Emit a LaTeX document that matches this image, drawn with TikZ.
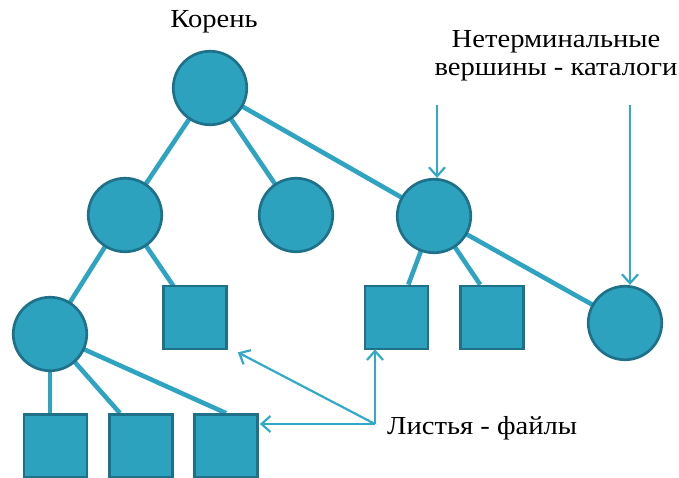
\documentclass[tikz,border=0pt]{standalone}
\usepackage{fontspec}
\setmainfont{Liberation Serif}[FakeStretch=1.1]
\usetikzlibrary{arrows.meta,backgrounds,calc}
\definecolor{nodefill}{HTML}{2CA2BF}
\definecolor{nodeedge}{HTML}{1F7189}
\definecolor{treeline}{HTML}{2EA4C2}
\definecolor{pointer}{HTML}{33A9C9}
\tikzset{
  vert/.style={circle, minimum size=73.5pt, inner sep=0pt, fill=nodefill, draw=nodeedge, line width=2.7pt},
  leaf/.style={rectangle, minimum size=63pt, inner sep=0pt, fill=nodefill, draw=nodeedge, line width=2.7pt},
  branch/.style={draw=treeline, line width=4.6pt},
  ptr/.style={draw=pointer, line width=2.2pt, -{Straight Barb[length=9pt,width=16pt,line width=2.2pt]}},
  lbl/.style={font=\fontsize{26}{28}\selectfont, text=black, inner sep=0pt}
}
\begin{document}
\begin{tikzpicture}[x=1pt,y=-1pt]
\useasboundingbox (0,0) rectangle (679,477);

% directories
\node[vert] (root) at (210,88) {};
\node[vert] (a) at (125,215) {};
\node[vert] (b) at (296,215) {};
\node[vert] (c) at (434,216) {};
\node[vert] (d) at (50,334) {};
\node[vert] (e) at (625,323) {};

% files
\node[leaf] (la) at (195,317.5) {};
\node[leaf] (lc1) at (396.5,317.5) {};
\node[leaf] (lc2) at (492,317.5) {};
\node[leaf] (ld1) at (55.5,446) {};
\node[leaf] (ld2) at (141,446) {};
\node[leaf] (ld3) at (226,446) {};

% tree edges, behind the nodes
\begin{scope}[on background layer]
  \draw[branch] (root.center) -- (a.center);
  \draw[branch] (root.center) -- (b.center);
  \draw[branch] (root.center) -- (c.center);
  \draw[branch] (a.center) -- (d.center);
  \draw[branch] (a.center) -- (la.center);
  \draw[branch] (d.center) -- (d.center |- ld1.north);
  \draw[branch] (d.center) -- ($(ld2.north west)!0.18!(ld2.north east)$);
  \draw[branch] (d.center) -- (ld3.north);
  \draw[branch] (c.center) -- ($(lc1.north west)!0.68!(lc1.north east)$);
  \draw[branch] (c.center) -- ($(lc2.north west)!0.32!(lc2.north east)$);
  \draw[branch] (c.center) -- (e.center);
\end{scope}

% labels
\node[lbl] (rootlbl) at (214,22) {Корень};
\node[lbl, align=center] (dirlbl) at (556,56) {Нетерминальные\\вершины - каталоги};
\node[lbl, anchor=west] (filelbl) at (387,428) {Листья - файлы};

% pointers to directories
\coordinate (dirsrc1) at (437,105);
\coordinate (dirsrc2) at (630,105);
\draw[ptr] (dirsrc1) -- (dirsrc1 |- c.north);
\draw[ptr] (dirsrc2) -- (dirsrc2 |- e.north);

% pointers to files
\coordinate (hub) at (375,424);
\coordinate (latip) at ($(la.south east)+(10,2)$);
\draw[ptr] (hub) -- ([xshift=1pt]hub -| ld3.east);
\draw[ptr] (hub) -- ([yshift=1pt]hub |- lc1.south);
\draw[ptr] (hub) -- (latip);
\end{tikzpicture}
\end{document}
